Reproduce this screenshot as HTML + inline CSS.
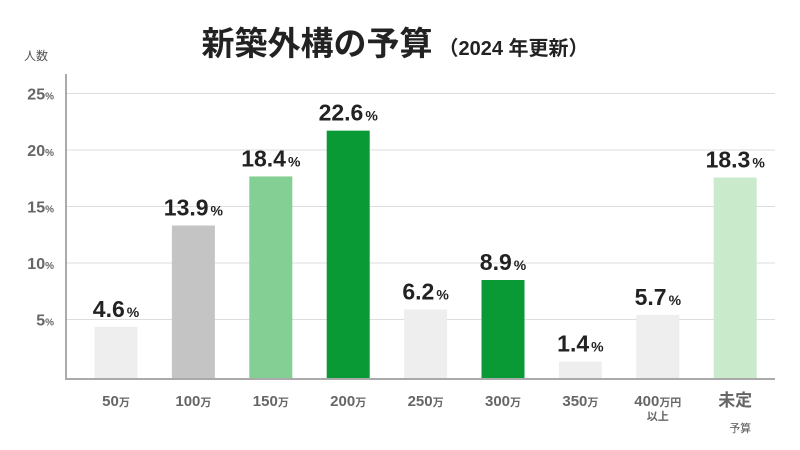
<!DOCTYPE html>
<html><head><meta charset="utf-8"><style>
body{margin:0;background:#fff;}
svg{display:block;font-family:"Liberation Sans","Noto Sans CJK JP",sans-serif;}
</style></head><body>
<svg id="c" width="800" height="450">
<text x="395" y="55" text-anchor="middle" font-size="33" font-weight="bold" fill="#222">新築外構の予算<tspan font-size="20" dx="6">（2024 年更新）</tspan></text>
<text x="36" y="60" text-anchor="middle" font-size="12" fill="#555">人数</text>
<g id="grid"></g><g id="bars"></g>
<line x1="66" y1="74" x2="66" y2="379" stroke="#aaa" stroke-width="2"/>
<line x1="65" y1="379" x2="775" y2="379" stroke="#aaa" stroke-width="2"/>
</svg>
<script>
const categories=["50","100","150","200","250","300","350","400","未定"];
const values=[4.6,13.9,18.4,22.6,6.2,8.9,1.4,5.7,18.3];
const valueLabels=["4.6","13.9","18.4","22.6","6.2","8.9","1.4","5.7","18.3"];
const yTicks=[5,10,15,20,25];
const colors=["#eeeeee","#c4c4c4","#84cf94","#0a9a35","#eeeeee","#0a9a35","#eeeeee","#eeeeee","#c9ebcb"];
const NS="http://www.w3.org/2000/svg";
const y=v=>376-v*11.3;
const yb=v=>377-v*10.9;
const x=i=>116+i*77.4;
function mk(t,a,p){const e=document.createElementNS(NS,t);for(const k in a)e.setAttribute(k,a[k]);p.appendChild(e);return e;}
const g=document.getElementById('grid'),b=document.getElementById('bars');
yTicks.forEach(t=>{
 const l=mk('line',{x1:66,x2:775,y1:y(t),y2:y(t),stroke:'#ddd'},g);
 
 
 const tx=mk('text',{x:54,y:y(t)+6,'text-anchor':'end','font-size':16,'font-weight':'bold',fill:'#666'},g);
 
 
 tx.innerHTML=t+'<tspan font-size="10">%</tspan>';
});
values.forEach((v,i)=>{
 const r=mk('rect',{x:x(i)-21.5,y:yb(v),width:43,height:378-yb(v),fill:colors[i]},b);
 
 
 const t=mk('text',{x:x(i),y:yb(v)-10,'text-anchor':'middle','font-size':23,'font-weight':'bold',fill:'#222'},b);
 
 
 t.innerHTML=valueLabels[i]+'<tspan font-size="14" dx="2">%</tspan>';
 const c=mk('text',{x:x(i),y:406,'text-anchor':'middle','font-size':15,'font-weight':'bold',fill:'#666'},b);
 
 
 if(categories[i]==="未定"){c.setAttribute('font-size','17');c.textContent="未定";
  const s=mk('text',{x:x(i)+5,y:432,'text-anchor':'middle','font-size':11,fill:'#555'},b);
  
  
  s.textContent="予算";
 } else if(categories[i]==="400"){c.innerHTML='400<tspan font-size="11">万円</tspan>';
  const s=mk('text',{x:x(i),y:420,'text-anchor':'middle','font-size':11,'font-weight':'bold',fill:'#666'},b);
  
  
  s.textContent="以上";
 } else c.innerHTML=categories[i]+'<tspan font-size="11">万</tspan>';
});
</script>
</body></html>
